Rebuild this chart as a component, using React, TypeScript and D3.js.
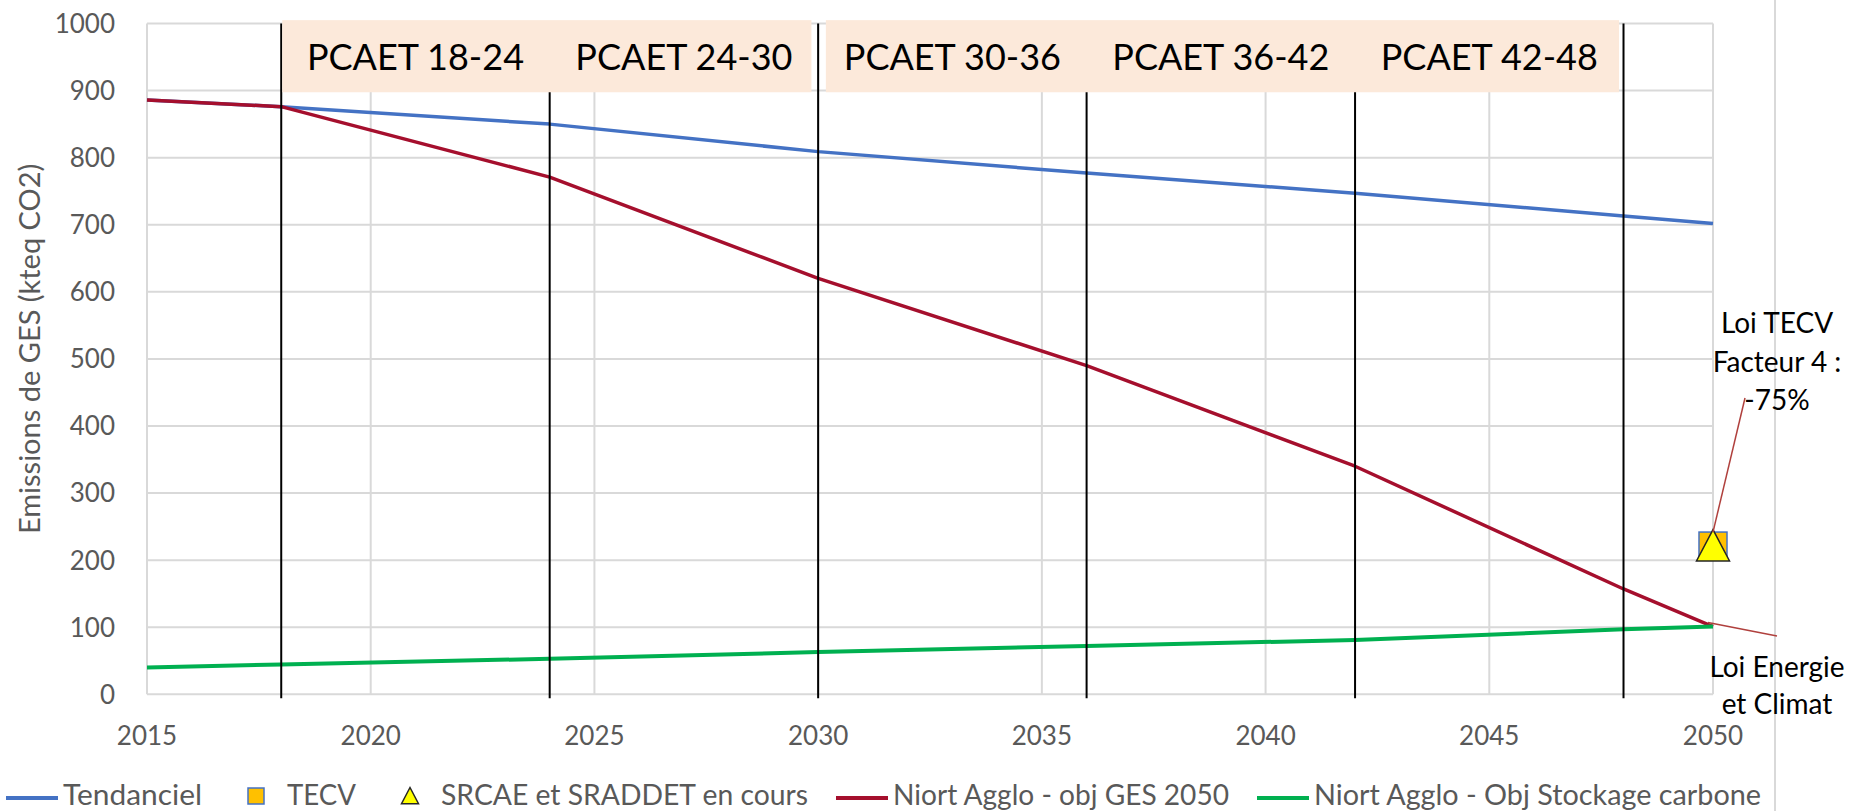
import React, { useEffect, useRef } from "react";
import * as d3 from "d3";

// values (kteq CO2)
const years = [2015, 2018, 2024, 2030, 2036, 2042, 2048, 2050];
const tendanciel = [886, 876, 850, 809, 777, 747, 713, 702];
const objGes = [886, 876, 771, 620, 490, 340, 157, 101];
const stockage = [40, 44.5, 53, 63, 72, 81, 97, 101];

const tecvPoint = { year: 2050, value: 221 };
const srcaePoint = { year: 2050, value: 221 };

const pcaetYears = [2018, 2024, 2030, 2036, 2042, 2048];
const pcaetLabels = ["PCAET 18-24", "PCAET 24-30", "PCAET 30-36", "PCAET 36-42", "PCAET 42-48"];
const pcaetBoxes = [
  [2018, 2029.85],
  [2030.15, 2047.9],
];

const xTicks = [2015, 2020, 2025, 2030, 2035, 2040, 2045, 2050];
const yTicks = [0, 100, 200, 300, 400, 500, 600, 700, 800, 900, 1000];

const legendItems = [
  { label: "Tendanciel", kind: "line", color: "#4472C4" },
  { label: "TECV", kind: "square", color: "#FFC000" },
  { label: "SRCAE et SRADDET en cours", kind: "triangle", color: "#FFFF00" },
  { label: "Niort Agglo - obj GES 2050", kind: "line", color: "#A50F2D" },
  { label: "Niort Agglo - Obj Stockage carbone", kind: "line", color: "#00B050" },
];
// legend label widths as measured on the reference (px), used as textLength
const legendWidths = [139, 69, 367, 336, 447];

const FONT = "Lato, 'Open Sans', sans-serif";
const GRAY = "#595959";

const App = () => {
  const svgRef = useRef<SVGSVGElement>(null);

  useEffect(() => {
    const svg = d3.select(svgRef.current);
    svg.selectAll("*").remove();

    const width = 1852;
    const height = 811;

    const x = d3.scaleLinear().domain([2015, 2050]).range([147, 1713]);
    const y = d3.scaleLinear().domain([0, 1000]).range([694.3, 23.5]);

    svg.attr("width", width).attr("height", height);
    svg.append("rect").attr("width", width).attr("height", height).attr("fill", "#fff");

    // chart area border on the right
    svg
      .append("line")
      .attr("x1", 1775)
      .attr("x2", 1775)
      .attr("y1", 0)
      .attr("y2", height)
      .attr("stroke", "#d9d9d9")
      .attr("stroke-width", 2);

    // gridlines
    svg
      .selectAll(".hgrid")
      .data(yTicks)
      .join("line")
      .attr("x1", x(2015))
      .attr("x2", x(2050))
      .attr("y1", (d) => y(d))
      .attr("y2", (d) => y(d))
      .attr("stroke", "#d9d9d9")
      .attr("stroke-width", 2);

    svg
      .selectAll(".vgrid")
      .data(xTicks)
      .join("line")
      .attr("x1", (d) => x(d))
      .attr("x2", (d) => x(d))
      .attr("y1", y(1000))
      .attr("y2", y(0))
      .attr("stroke", "#d9d9d9")
      .attr("stroke-width", 2);

    // tick labels
    svg
      .selectAll(".ylab")
      .data(yTicks)
      .join("text")
      .attr("x", 115)
      .attr("y", (d) => y(d))
      .attr("dy", "0.36em")
      .attr("text-anchor", "end")
      .attr("font-family", FONT)
      .attr("font-size", 26)
      .attr("fill", GRAY)
      .text((d) => d);

    svg
      .selectAll(".xlab")
      .data(xTicks)
      .join("text")
      .attr("x", (d) => x(d))
      .attr("y", 745)
      .attr("text-anchor", "middle")
      .attr("font-family", FONT)
      .attr("font-size", 26)
      .attr("fill", GRAY)
      .text((d) => d);

    // y axis title
    svg
      .append("text")
      .attr("transform", `translate(40, ${(y(0) + y(1000)) / 2 - 10}) rotate(-90)`)
      .attr("text-anchor", "middle")
      .attr("font-family", FONT)
      .attr("font-size", 29)
      .attr("fill", GRAY)
      .text("Emissions de GES (kteq CO2)");

    // series
    const line = d3
      .line<number>()
      .x((d, i) => x(years[i]))
      .y((d) => y(d));

    const series = [
      { values: tendanciel, color: "#4472C4", w: 3.5 },
      { values: objGes, color: "#A50F2D", w: 3.5 },
      { values: stockage, color: "#00B050", w: 4 },
    ];
    svg
      .selectAll(".series")
      .data(series)
      .join("path")
      .attr("d", (d) => line(d.values))
      .attr("fill", "none")
      .attr("stroke", (d) => d.color)
      .attr("stroke-width", (d) => d.w)
      .attr("stroke-linejoin", "round");

    // TECV square + SRCAE triangle
    const sq = 28;
    svg
      .append("rect")
      .attr("x", x(tecvPoint.year) - sq / 2)
      .attr("y", y(tecvPoint.value) - sq / 2)
      .attr("width", sq)
      .attr("height", sq)
      .attr("fill", "#FFC000")
      .attr("stroke", "#4472C4")
      .attr("stroke-width", 1.5);

    const tri = (cx: number, cy: number, s: number) =>
      `M${cx},${cy - s * 0.5} L${cx + s * 0.5},${cy + s * 0.45} L${cx - s * 0.5},${cy + s * 0.45} Z`;
    svg
      .append("path")
      .attr("d", tri(x(srcaePoint.year), y(srcaePoint.value), 33))
      .attr("fill", "#FFFF00")
      .attr("stroke", "#262626")
      .attr("stroke-width", 1.5);

    // PCAET separator lines
    svg
      .selectAll(".pcaet")
      .data(pcaetYears)
      .join("line")
      .attr("x1", (d) => x(d))
      .attr("x2", (d) => x(d))
      .attr("y1", y(1000))
      .attr("y2", y(0) + 4)
      .attr("stroke", "#000")
      .attr("stroke-width", 2);

    // PCAET boxes
    svg
      .selectAll(".box")
      .data(pcaetBoxes)
      .join("rect")
      .attr("x", (d) => x(d[0]) + 1)
      .attr("width", (d) => x(d[1]) - x(d[0]) - 1)
      .attr("y", y(1005))
      .attr("height", y(897.5) - y(1005))
      .attr("fill", "#FCE9DA");

    svg
      .selectAll(".plabel")
      .data(pcaetLabels)
      .join("text")
      .attr("x", (d, i) => x((pcaetYears[i] + pcaetYears[i + 1]) / 2))
      .attr("y", 70)
      .attr("text-anchor", "middle")
      .attr("font-family", FONT)
      .attr("font-size", 36)
      .attr("fill", "#000")
      .text((d) => d);

    // annotations
    const ann = svg.append("g").attr("font-family", FONT).attr("font-size", 28).attr("fill", "#000");
    ["Loi TECV", "Facteur 4 :", "-75%"].forEach((t, i) => {
      ann
        .append("text")
        .attr("x", 1777)
        .attr("y", 333 + i * 38.5)
        .attr("text-anchor", "middle")
        .text(t);
    });
    ["Loi Energie", "et Climat"].forEach((t, i) => {
      ann
        .append("text")
        .attr("x", 1777)
        .attr("y", 677 + i * 37)
        .attr("text-anchor", "middle")
        .text(t);
    });
    svg
      .append("line")
      .attr("x1", 1745)
      .attr("y1", 398)
      .attr("x2", x(srcaePoint.year))
      .attr("y2", y(srcaePoint.value) - 14)
      .attr("stroke", "#B0403D")
      .attr("stroke-width", 1.5);
    svg
      .append("line")
      .attr("x1", x(2050) - 5)
      .attr("y1", y(objGes[objGes.length - 1]) - 4)
      .attr("x2", 1777)
      .attr("y2", 636)
      .attr("stroke", "#B0403D")
      .attr("stroke-width", 1.5);

    // legend
    const legend = svg.append("g");
    let lx = 6;
    const ly = 798;
    legendItems.forEach((item, i) => {
      const g = legend.append("g");
      if (item.kind === "line") {
        g.append("line")
          .attr("x1", lx)
          .attr("x2", lx + 52)
          .attr("y1", ly)
          .attr("y2", ly)
          .attr("stroke", item.color)
          .attr("stroke-width", 4);
      } else if (item.kind === "square") {
        g.append("rect")
          .attr("x", lx + 26 - 8)
          .attr("y", ly - 10)
          .attr("width", 16)
          .attr("height", 16)
          .attr("fill", item.color)
          .attr("stroke", "#4472C4")
          .attr("stroke-width", 1.5);
      } else {
        g.append("path")
          .attr("d", tri(lx + 26, ly - 2, 17))
          .attr("fill", item.color)
          .attr("stroke", "#262626")
          .attr("stroke-width", 1.5);
      }
      g.append("text")
        .attr("x", lx + 57)
        .attr("y", 805)
        .attr("font-family", FONT)
        .attr("font-size", 28)
        .attr("fill", GRAY)
        .attr("textLength", legendWidths[i])
        .attr("lengthAdjust", "spacingAndGlyphs")
        .text(item.label);
      lx = lx + 57 + legendWidths[i] + 28;
    });
  }, []);

  return (
    <svg
      ref={svgRef}
      style={{ position: "absolute", left: 0, top: 0, display: "block" }}
    ></svg>
  );
};

export default App;
